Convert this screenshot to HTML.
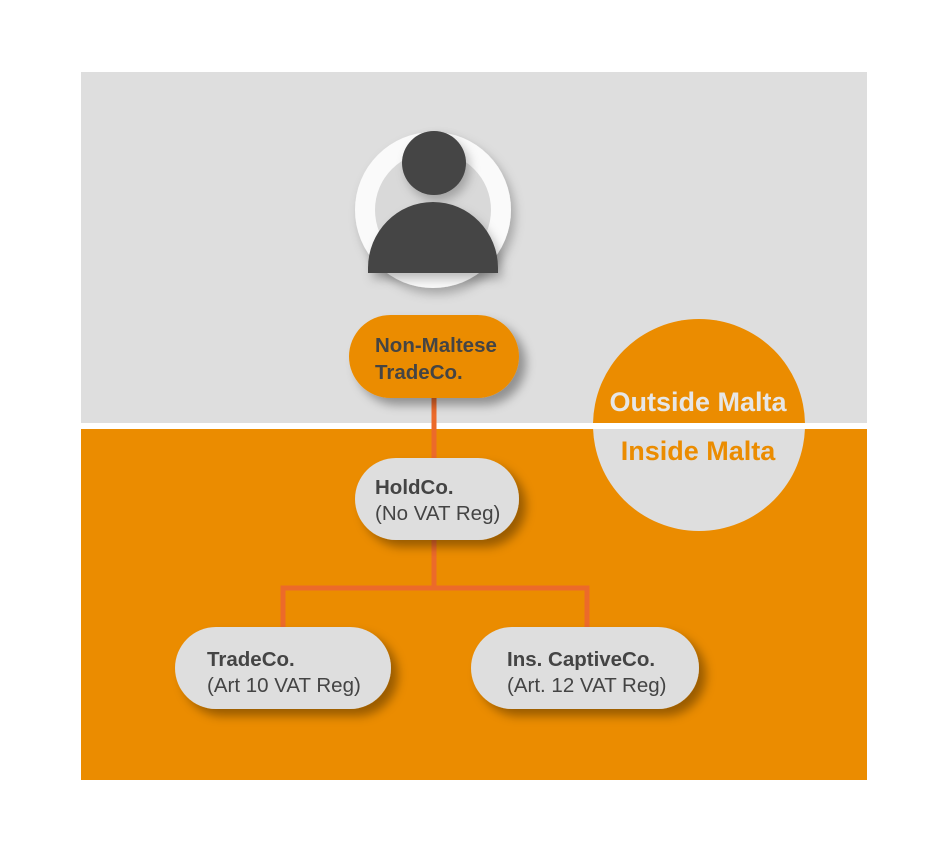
<!DOCTYPE html>
<html><head><meta charset="utf-8"><style>
html,body{margin:0;padding:0;background:#fff;}
svg{display:block;}
text{font-family:"Liberation Sans",Arial,sans-serif;}
</style></head><body>
<svg width="942" height="847" viewBox="0 0 942 847" xmlns="http://www.w3.org/2000/svg">
<defs>
<filter id="sh" x="-20%" y="-30%" width="150%" height="170%">
<feDropShadow dx="7" dy="7" stdDeviation="5" flood-color="#000" flood-opacity="0.35"/>
</filter>
<filter id="sh2" x="-20%" y="-20%" width="150%" height="150%">
<feDropShadow dx="4" dy="6" stdDeviation="5" flood-color="#000" flood-opacity="0.25"/>
</filter>
<clipPath id="top"><rect x="0" y="0" width="942" height="423"/></clipPath>
<clipPath id="bot"><rect x="0" y="429" width="942" height="420"/></clipPath>
</defs>
<rect x="81" y="72" width="786" height="351" fill="#dedede"/>
<rect x="81" y="429" width="786" height="351" fill="#eb8c00"/>

<circle cx="699" cy="425" r="106" fill="#eb8c00" clip-path="url(#top)"/>
<circle cx="699" cy="425" r="106" fill="#dedede" clip-path="url(#bot)"/>
<text x="698" y="411" text-anchor="middle" font-size="27" font-weight="bold" fill="#e6e6e6">Outside Malta</text>
<text x="698" y="460" text-anchor="middle" font-size="27" font-weight="bold" fill="#eb8c00">Inside Malta</text>

<circle cx="433" cy="210" r="78" fill="#fafafa" filter="url(#sh2)"/>
<circle cx="433" cy="210" r="58" fill="#d9d9d9"/>
<circle cx="434" cy="163" r="32" fill="#444" filter="url(#sh2)"/>
<path d="M368 273 L368 268 A65 66 0 0 1 498 268 L498 273 Z" fill="#444" filter="url(#sh2)"/>

<g stroke="#ec6a2a" stroke-width="5" fill="none">
<line x1="434" y1="398" x2="434" y2="460"/>
<line x1="434" y1="538" x2="434" y2="590"/>
<polyline points="283,630 283,588 587,588 587,630"/>
</g>

<rect x="349" y="315" width="170" height="83" rx="41.5" fill="#eb8c00" filter="url(#sh)"/>
<text x="375" y="352" font-size="20.5" font-weight="bold" fill="#444">Non-Maltese</text>
<text x="375" y="379" font-size="20.5" font-weight="bold" fill="#444">TradeCo.</text>

<rect x="355" y="458" width="164" height="82" rx="41" fill="#dedede" filter="url(#sh)"/>
<text x="375" y="494" font-size="20.5" font-weight="bold" fill="#444">HoldCo.</text>
<text x="375" y="520" font-size="20.5" fill="#444">(No VAT Reg)</text>

<rect x="175" y="627" width="216" height="82" rx="41" fill="#dedede" filter="url(#sh)"/>
<text x="207" y="666" font-size="20.5" font-weight="bold" fill="#444">TradeCo.</text>
<text x="207" y="692" font-size="20.5" fill="#444">(Art 10 VAT Reg)</text>

<rect x="471" y="627" width="228" height="82" rx="41" fill="#dedede" filter="url(#sh)"/>
<text x="507" y="666" font-size="20.5" font-weight="bold" fill="#444">Ins. CaptiveCo.</text>
<text x="507" y="692" font-size="20.5" fill="#444">(Art. 12 VAT Reg)</text>
</svg>
</body></html>
